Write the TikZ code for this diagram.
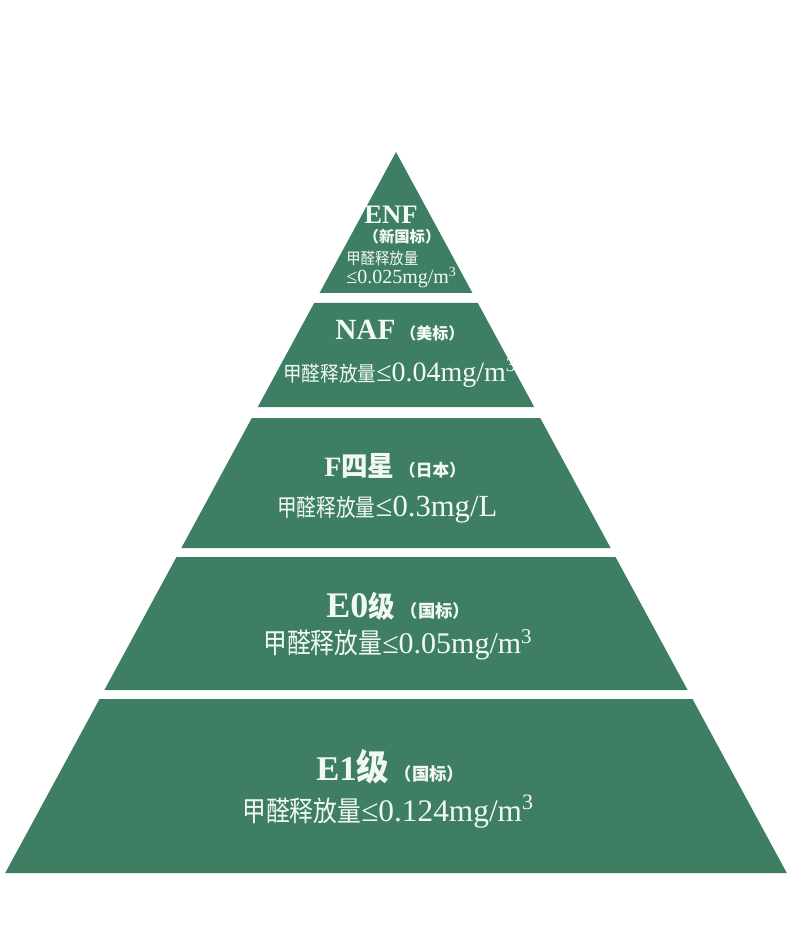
\documentclass[tikz,border=0pt]{standalone}
\usepackage{fontspec}
\setmainfont{Liberation Serif}
\newfontfamily\cjk{Noto Sans CJK SC}
\usepackage{tikz}
\usetikzlibrary{positioning}

\definecolor{pyrgreen}{RGB}{62,127,99}
\definecolor{pyrtext}{RGB}{242,249,244}
\newcommand\fs[1]{\fontsize{#1}{#1}\selectfont}
\newcommand\zh[2][0.85]{\scalebox{#1}[1]{\cjk #2}}
\tikzset{
	lvlband/.style={fill=pyrgreen},
	lvltitle/.style={text=pyrtext, font=\bfseries, inner sep=0pt},
	lvlvalue/.style={text=pyrtext, inner sep=0pt, anchor=west},
}

\begin{document}
\begin{tikzpicture}[x=0.75pt, y=-0.75pt]
	\fill[white] (0,0) rectangle (800,944);
	\useasboundingbox (0,0) rectangle (800,944);
	
	\foreach \t/\b in {152/293, 303/407, 418/548, 557/690, 699/873}
		\fill[lvlband] ({396-0.542*(\t-152)},\t) -- ({396+0.542*(\t-152)},\t)
			-- ({396+0.542*(\b-152)},\b) -- ({396-0.542*(\b-152)},\b) -- cycle;
	
	\node[lvltitle] (enf) at (391,215) {\fs{20}ENF};
	\node[lvltitle] (enfsub) at (402,237) {\fs{11.5}\cjk （新国标）};
	\node[lvlvalue] (enfval) at (346,258) {\zh[0.9]{\fs{12}甲醛释放量}};
	\node[lvlvalue] (enflim) at (346,278) {\fs{15}≤0.025mg/m\textsuperscript{3}};
	
	\node[lvltitle, anchor=west] (naf) at (335,331) {\fs{22}NAF\,{\fs{12}\cjk （美标）}};
	\node[lvlvalue] (nafval) at (283,373) {\zh[0.9]{\fs{15.5}甲醛释放量}\fs{21}≤0.04mg/m\textsuperscript{3}};
	
	\node[lvltitle, anchor=west] (fstar) at (324,466) {\fs{21}F\zh[0.95]{\fs{21}四星}\,{\fs{12.5}\cjk （日本）}};
	\node[lvlvalue] (fstarval) at (277,510) {\zh[0.82]{\fs{18}甲醛释放量}\fs{23}≤0.3mg/L};
	
	\node[lvltitle, anchor=west] (ezero) at (326,606) {\fs{27}E0\zh[0.9]{\fs{22}级}\,{\fs{13}\cjk （国标）}};
	\node[lvlvalue] (ezeroval) at (263,645) {\zh[0.85]{\fs{21}甲醛释放量}\fs{22.5}≤0.05mg/m\textsuperscript{3}};
	
	\node[lvltitle, anchor=west] (eone) at (316,767) {\fs{26}E1\zh[0.9]{\fs{27}级}\,{\fs{13}\cjk （国标）}};
	\node[lvlvalue] (eoneval) at (242,812) {\zh[0.85]{\fs{21}甲醛释放量}\fs{23.5}≤0.124mg/m\textsuperscript{3}};
	
\end{tikzpicture}
\end{document}
